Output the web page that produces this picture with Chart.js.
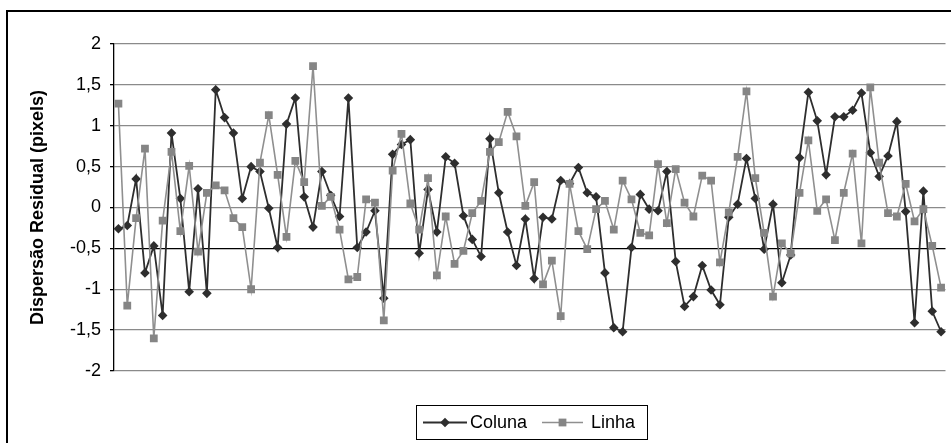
<!DOCTYPE html>
<html><head><meta charset="utf-8">
<script src="https://cdn.jsdelivr.net/npm/chart.js@4.4.0/dist/chart.umd.min.js"></script>
<style>html,body{margin:0;padding:0;background:#fff;overflow:hidden}#wrap{position:relative;width:951px;height:443px}</style>
</head><body><div id="wrap"><canvas id="c"></canvas></div>
<script>
const categories = [1,2,3,4,5,6,7,8,9,10,11,12,13,14,15,16,17,18,19,20,21,22,23,24,25,26,27,28,29,30,31,32,33,34,35,36,37,38,39,40,41,42,43,44,45,46,47,48,49,50,51,52,53,54,55,56,57,58,59,60,61,62,63,64,65,66,67,68,69,70,71,72,73,74,75,76,77,78,79,80,81,82,83,84,85,86,87,88,89,90,91,92,93,94];
const coluna = [-0.26,-0.22,0.35,-0.80,-0.47,-1.32,0.91,0.11,-1.03,0.23,-1.05,1.44,1.10,0.91,0.11,0.50,0.44,-0.01,-0.49,1.02,1.34,0.13,-0.24,0.44,0.15,-0.11,1.34,-0.49,-0.30,-0.04,-1.11,0.65,0.77,0.83,-0.56,0.22,-0.30,0.62,0.54,-0.10,-0.39,-0.60,0.84,0.18,-0.30,-0.71,-0.14,-0.87,-0.12,-0.14,0.33,0.29,0.49,0.18,0.13,-0.80,-1.47,-1.52,-0.49,0.16,-0.02,-0.04,0.44,-0.66,-1.21,-1.09,-0.71,-1.01,-1.19,-0.12,0.04,0.60,0.11,-0.51,0.04,-0.92,-0.58,0.61,1.41,1.06,0.40,1.11,1.11,1.19,1.40,0.67,0.38,0.63,1.05,-0.05,-1.41,0.20,-1.27,-1.52];
const linha = [1.27,-1.20,-0.13,0.72,-1.60,-0.16,0.68,-0.29,0.51,-0.54,0.18,0.27,0.21,-0.13,-0.24,-1.00,0.55,1.13,0.40,-0.36,0.57,0.31,1.73,0.02,0.13,-0.27,-0.88,-0.85,0.10,0.06,-1.38,0.45,0.90,0.05,-0.27,0.36,-0.83,-0.11,-0.69,-0.53,-0.07,0.08,0.68,0.80,1.17,0.87,0.02,0.31,-0.94,-0.65,-1.33,0.29,-0.29,-0.51,-0.02,0.08,-0.27,0.33,0.10,-0.31,-0.34,0.53,-0.19,0.47,0.06,-0.11,0.39,0.33,-0.67,-0.06,0.62,1.42,0.36,-0.31,-1.09,-0.44,-0.56,0.18,0.82,-0.04,0.10,-0.40,0.18,0.66,-0.44,1.47,0.55,-0.07,-0.11,0.29,-0.17,-0.02,-0.47,-0.98];
const yTicks = [2,1.5,1,0.5,0,-0.5,-1,-1.5,-2];
const yTickLabels = ['2','1,5','1','0,5','0','-0,5','-1','-1,5','-2'];
const seriesNames = ['Coluna','Linha'];
const axisTitle = 'Dispersão Residual (pixels)';

const FONT = '"Liberation Sans", Arial, Helvetica, sans-serif';
const C_COL = '#2e2e2e', C_LIN = '#858585', C_LIN_LINE = '#8f8f8f';

function drawMarker(ctx, style, x, y, r, color) {
  ctx.fillStyle = color; ctx.beginPath();
  if (style === 'rectRot') {
    ctx.moveTo(x, y - r); ctx.lineTo(x + r, y); ctx.lineTo(x, y + r); ctx.lineTo(x - r, y); ctx.closePath();
  } else {
    const s = Math.SQRT1_2 * r; ctx.rect(x - s, y - s, 2 * s, 2 * s);
  }
  ctx.fill();
}

const decor = {
  id: 'decor',
  afterDraw(chart) {
    const ctx = chart.ctx;
    ctx.save();
    ctx.strokeStyle = '#000'; ctx.lineWidth = 2;
    ctx.strokeRect(7, 11, 1200, 1200);
    // legend
    ctx.lineWidth = 1;
    ctx.strokeRect(416.5, 405.5, 231, 34);
    const yc = 422.5;
    const items = [
      {x0: 423, x1: 467, tx: 470, ds: chart.data.datasets[0]},
      {x0: 542, x1: 583, tx: 591, ds: chart.data.datasets[1]}
    ];
    ctx.font = '18px ' + FONT; ctx.textBaseline = 'middle'; ctx.textAlign = 'left';
    items.forEach(it => {
      ctx.strokeStyle = it.ds.borderColor; ctx.lineWidth = it.ds.borderWidth;
      ctx.beginPath(); ctx.moveTo(it.x0, yc); ctx.lineTo(it.x1, yc); ctx.stroke();
      drawMarker(ctx, it.ds.pointStyle, (it.x0 + it.x1) / 2, yc, it.ds.pointRadius, it.ds.pointBackgroundColor);
      ctx.fillStyle = '#000'; ctx.fillText(it.ds.label, it.tx, yc + 1);
    });
    ctx.restore();
  }
};

new Chart(document.getElementById('c'), {
  type: 'line',
  data: {
    labels: categories,
    datasets: [
      {label: seriesNames[0], data: coluna, borderColor: C_COL, borderWidth: 1.8, pointStyle: 'rectRot', pointRadius: 4.8,
       pointBackgroundColor: C_COL, pointBorderColor: C_COL, pointBorderWidth: 0, tension: 0, order: 2},
      {label: seriesNames[1], data: linha, borderColor: C_LIN_LINE, borderWidth: 1.6, pointStyle: 'rect', pointRadius: 5.5,
       pointBackgroundColor: C_LIN, pointBorderColor: C_LIN, pointBorderWidth: 0, tension: 0, order: 1}
    ]
  },
  options: {
    responsive: true, maintainAspectRatio: false, animation: false, devicePixelRatio: 1,
    layout: {padding: {left: 0, right: 0, top: 44, bottom: 72}},
    plugins: {legend: {display: false}, tooltip: {enabled: false}},
    scales: {
      x: {type: 'category', display: false, offset: true},
      y: {
        min: -2, max: 2,
        afterFit: s => { s.width = 114; },
        afterBuildTicks: s => { s.ticks = yTicks.map(v => ({value: v})); },
        ticks: {
          color: '#000', padding: 9, font: {family: FONT, size: 18},
          callback: v => { const i = yTicks.findIndex(t => Math.abs(t - v) < 1e-9); return i >= 0 ? yTickLabels[i] : ''; }
        },
        grid: {
          color: c => (c.tick && Math.abs(c.tick.value + 0.5) < 1e-9) ? '#000' : '#8a8a8a',
          lineWidth: 1.3, tickLength: 4, tickColor: '#000', drawTicks: true
        },
        border: {display: true, color: '#000', width: 1.3},
        title: {display: true, text: axisTitle, color: '#000', font: {family: FONT, size: 18, weight: 'bold'}, padding: {top: 27, bottom: 0}}
      }
    }
  },
  plugins: [decor]
});
</script></body></html>
